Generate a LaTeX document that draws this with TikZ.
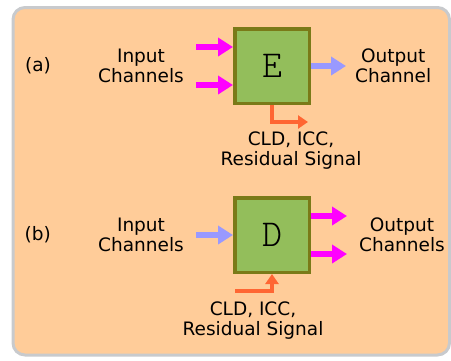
\documentclass[tikz,border=0pt]{standalone}
\usepackage{fontspec}
\setmainfont{DejaVu Sans}
\newfontfamily\codecfont{Latin Modern Mono Light}
\usetikzlibrary{arrows.meta, positioning}
\definecolor{peach}{RGB}{255,204,153}
\definecolor{panelgray}{RGB}{200,202,205}
\definecolor{boxgreen}{RGB}{147,190,91}
\definecolor{boxolive}{RGB}{122,122,24}
\definecolor{chanpink}{RGB}{255,0,255}
\definecolor{chanblue}{RGB}{153,153,255}
\definecolor{sideorange}{RGB}{255,102,51}

\begin{document}
\begin{tikzpicture}[
      x=1pt, y=-1pt,
      codec/.style={draw=boxolive, fill=boxgreen, line width=3.5pt, minimum size=74.5pt, inner sep=0pt, font=\fontsize{38}{40}\selectfont\codecfont},
      caption/.style={align=center, inner sep=0pt, font=\fontsize{18.5}{20}\selectfont},
      multi/.style={chanpink, line width=5.5pt, -{Triangle[length=15pt, width=18pt]}},
      single/.style={chanblue, line width=5.5pt, -{Triangle[length=15pt, width=18pt]}},
      side/.style={sideorange, line width=3.5pt, -{Triangle[length=10pt, width=13pt]}}
    ]
    \useasboundingbox (0,0) rectangle (451,360);
    \draw[panelgray, fill=peach, line width=3pt, rounded corners=12pt] (13,7.5) rectangle (449.5,355);

    % (a) encoder
    \node[codec] (enc) at (272,66) {E};
    \node[caption, left=49pt of enc] (encin) {Input\\Channels};
    \node[caption, left=47pt of encin] (taga) {(a)};
    \node[caption, right=44pt of enc] (encout) {Output\\Channel};
    \node[caption, below=27pt of enc, xshift=19pt] (encpar) {CLD, ICC,\\Residual Signal};
    \coordinate[left=37pt of enc.west, yshift=19pt] (encin1);
    \coordinate[left=37pt of enc.west, yshift=-19pt] (encin2);
    \coordinate[right=35pt of enc.east] (encdown);
    \coordinate[below right=17pt and 36pt of enc.south] (encside);

    \draw[multi] (encin1) -- (encin1 -| enc.west);
    \draw[multi] (encin2) -- (encin2 -| enc.west);
    \draw[single] (enc) -- (encdown);
    \draw[side] (enc.south) |- (encside);

    % (b) decoder
    \node[codec] (dec) at (272,235) {D};
    \node[caption, left=49pt of dec] (decin) {Input\\Channels};
    \node[caption, left=47pt of decin] (tagb) {(b)};
    \node[caption, right=48pt of dec] (decout) {Output\\Channels};
    \node[caption, below=28pt of dec, xshift=-19pt] (decpar) {CLD, ICC,\\Residual Signal};
    \coordinate[left=37pt of dec.west] (decup);
    \coordinate[right=36pt of dec.east, yshift=19pt] (decout1);
    \coordinate[right=36pt of dec.east, yshift=-19pt] (decout2);
    \coordinate[below left=17pt and 37pt of dec.south] (decside);

    \draw[single] (decup) -- (dec);
    \draw[multi] (decout1 -| dec.east) -- (decout1);
    \draw[multi] (decout2 -| dec.east) -- (decout2);
    \draw[side] (decside) -| (dec.south);
  \end{tikzpicture}
\end{document}
